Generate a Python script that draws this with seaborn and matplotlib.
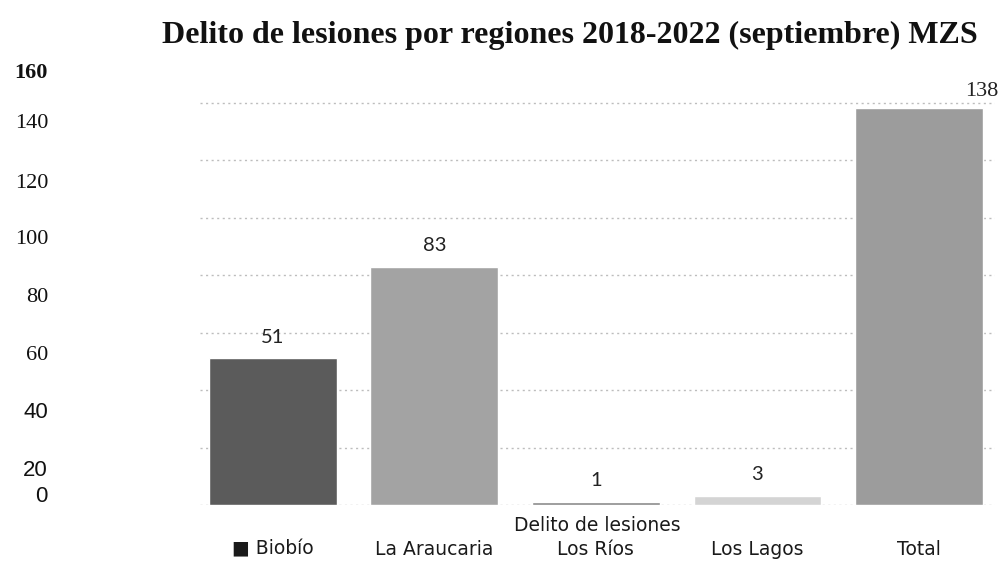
import matplotlib
matplotlib.use("Agg")
import matplotlib.pyplot as plt
import pandas as pd
import seaborn as sns

# data
regiones = ["Biobío", "La Araucaria", "Los Ríos", "Los Lagos", "Total"]
casos = [51, 83, 1, 3, 138]
colores = ["#5b5b5b", "#a3a3a3", "#8a8a8a", "#d4d4d4", "#9c9c9c"]
etiquetas_y = ["160", "140", "120", "100", "80", "60", "40", "20", "0"]

sns.set_theme(style="white")
plt.rcParams["font.family"] = ["DejaVu Sans"]

df = pd.DataFrame({"region": regiones, "casos": casos})

fig = plt.figure(figsize=(10.04, 5.62), dpi=100)
ax = fig.add_axes([200 / 1004, 57 / 562, 795 / 1004, 431 / 562])

sns.barplot(data=df, x="region", y="casos", hue="region", palette=colores,
            width=0.79, legend=False, ax=ax, zorder=3)

ax.set_ylim(0, 150)
ax.set_xlim(-0.45, 4.47)
ax.set_yticks(range(0, 141, 20))
ax.yaxis.grid(True, color="#bdbdbd", linestyle=(0, (1.5, 2.5)), linewidth=1.0, zorder=0)
ax.tick_params(axis="y", left=False, labelleft=False)
sns.despine(ax=ax, left=True, bottom=True, top=True, right=True)

# category labels along the bottom
ax.set_xticks(range(len(regiones)))
ax.set_xticklabels(["■ " + regiones[0]] + regiones[1:], fontsize=13.5, color="#1a1a1a")
ax.tick_params(axis="x", bottom=False, pad=19)
ax.set_xlabel("Delito de lesiones", fontsize=13.5, color="#1a1a1a")
ax.xaxis.set_label_coords(0.5, -0.025)
ax.set_ylabel("")

# value labels
for i, v in enumerate(casos[:4]):
    ax.text(i, v + 4.5, str(v), ha="center", va="bottom", fontsize=14.5,
            family="Lato", color="#222222")
ax.text(4.49, casos[4] + 2.5, str(casos[4]), ha="right", va="bottom", fontsize=16,
        family="Liberation Serif", color="#222222")

# y labels as they sit in the original (offset from the grid)
pos_y = [73, 124, 183, 240, 297, 355, 412, 470, 497]
for lab, py in zip(etiquetas_y, pos_y):
    if lab == "160":
        kw = dict(family="Liberation Serif", weight="bold")
    elif lab in ("40", "20", "0"):
        kw = dict(family="Liberation Sans")
    else:
        kw = dict(family="Liberation Serif")
    fig.text(48 / 1004, 1 - py / 562, lab, ha="right", va="center", fontsize=16,
             color="#111111", **kw)

fig.text(570 / 1004, 1 - 35 / 562,
         "Delito de lesiones por regiones 2018-2022 (septiembre) MZS",
         ha="center", va="center", fontsize=23, weight="bold",
         family="Liberation Serif", color="#111111")

fig.savefig("out.png", dpi=100)
